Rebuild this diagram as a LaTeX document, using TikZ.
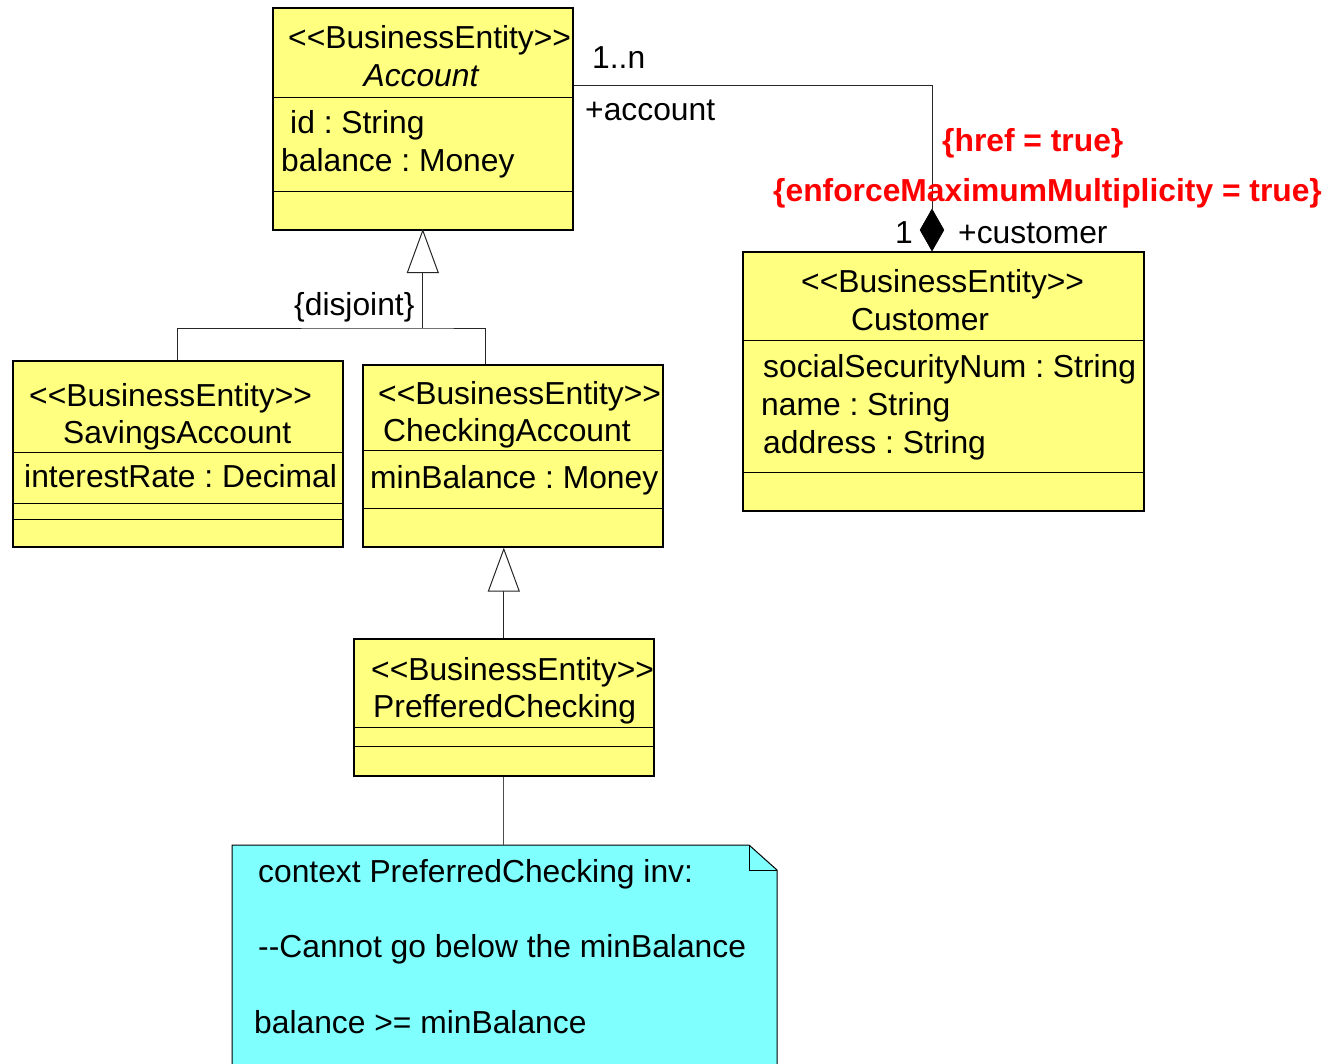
\documentclass[tikz,border=0pt]{standalone}
\usepackage{fontspec}
\newfontfamily\umlfont{Liberation Sans}
\usetikzlibrary{shapes.geometric,arrows.meta,calc}
\definecolor{umlyellow}{RGB}{255,255,128}
\definecolor{notecyan}{RGB}{128,255,255}
\definecolor{tagred}{RGB}{255,0,0}
\frenchspacing
\begin{document}
\begin{tikzpicture}[x=1pt,y=-1pt,
  cls/.style={draw=black, line width=1.6pt, fill=umlyellow, anchor=north west,
    inner sep=0pt, minimum width=#1},
  divider/.style={draw=black, line width=0.9pt},
  txt/.style={inner sep=0pt, font=\umlfont\fontsize{31.8}{38}\selectfont},
  tag/.style={txt, text=tagred, font=\umlfont\bfseries\fontsize{31.8}{38}\selectfont},
  link/.style={draw=black!85, line width=1pt},
  gen/.style={link, -{Triangle[length=44pt,width=32pt,fill=white,line width=1pt]}},
]
\useasboundingbox (0,0) rectangle (1337,1063);
\clip (0,0) rectangle (1337,1063);
\fill[white] (0,0) rectangle (1337,1063);

% ---------- class boxes ----------
\node[cls=300, minimum height=222] (acc)  at (272,7)   {};
\node[cls=401, minimum height=259] (cust) at (742,251) {};
\node[cls=330, minimum height=186] (sav)  at (12,360)  {};
\node[cls=300, minimum height=182] (chk)  at (362,364) {};
\node[cls=300, minimum height=137] (pref) at (353,638) {};

% compartment dividers
\draw[divider] (acc.west |- 0,97)  -- (acc.east |- 0,97);
\draw[divider] (acc.west |- 0,191) -- (acc.east |- 0,191);
\draw[divider] (cust.west |- 0,340) -- (cust.east |- 0,340);
\draw[divider] (cust.west |- 0,472) -- (cust.east |- 0,472);
\draw[divider] (sav.west |- 0,452) -- (sav.east |- 0,452);
\draw[divider] (sav.west |- 0,503) -- (sav.east |- 0,503);
\draw[divider] (sav.west |- 0,519) -- (sav.east |- 0,519);
\draw[divider] (chk.west |- 0,450) -- (chk.east |- 0,450);
\draw[divider] (chk.west |- 0,508) -- (chk.east |- 0,508);
\draw[divider] (pref.west |- 0,727) -- (pref.east |- 0,727);
\draw[divider] (pref.west |- 0,746) -- (pref.east |- 0,746);

% ---------- class texts ----------
\node[txt, anchor=base west] (accS) at (288,48)  {<<BusinessEntity>>};
\node[txt, anchor=base, font=\umlfont\itshape\fontsize{31.8}{38}\selectfont] (accN) at (421,86) {Account};
\node[txt, anchor=base west] (accA1) at (290,133) {id : String};
\node[txt, anchor=base west] (accA2) at (281,171) {balance : Money};

\node[txt, anchor=base west] (custS) at (801,292) {<<BusinessEntity>>};
\node[txt, anchor=base west] (custN) at (851,330) {Customer};
\node[txt, anchor=base west] (custA1) at (763,377) {socialSecurityNum : String};
\node[txt, anchor=base west] (custA2) at (761,415) {name : String};
\node[txt, anchor=base west] (custA3) at (763,453) {address : String};

\node[txt, anchor=base west] (savS) at (29,406) {<<BusinessEntity>>};
\node[txt, anchor=base west] (savN) at (63,443) {SavingsAccount};
\node[txt, anchor=base west] (savA1) at (24,487) {interestRate : Decimal};

\node[txt, anchor=base west] (chkS) at (378,404) {<<BusinessEntity>>};
\node[txt, anchor=base west] (chkN) at (383,441) {CheckingAccount};
\node[txt, anchor=base west] (chkA1) at (370,488) {minBalance : Money};

\node[txt, anchor=base west] (prefS) at (371,680) {<<BusinessEntity>>};
\node[txt, anchor=base west] (prefN) at (373,717) {PrefferedChecking};

% ---------- composition Account -- Customer ----------
\node[diamond, fill=black, draw=black, line width=0.6pt, inner sep=0pt,
      minimum width=24, minimum height=42] (dia) at (932,230) {};
\draw[link] ($(acc.north east)+(0,78)$) -| (dia.north);
\node[txt, anchor=base west] (multN) at (592,68)  {1..n};
\node[txt, anchor=base west] (roleA) at (585,120) {+account};
\node[tag, anchor=base west] (tagH) at (942,151) {\{href = true\}};
\node[tag, anchor=base west] (tagE) at (773,201) {\{enforceMaximumMultiplicity = true\}};
\node[txt, anchor=base east] (mult1) at (913,243) {1};
\node[txt, anchor=base west] (roleC) at (958,243) {+customer};

% ---------- generalisations ----------
\coordinate (gj) at (acc.south |- 0,328);
\draw[link] (sav.north) |- (gj) -| ($(chk.north west)+(123,0)$);
\draw[gen] (gj) -- (acc.south |- gj |- 0,229);
\node[txt, anchor=base west] (disj) at (294,315) {\{disjoint\}};

\coordinate (pj) at (pref.north);
\draw[gen] (pj) -- (pj |- chk.south);

% ---------- OCL note ----------
\draw[fill=notecyan, draw=black, line width=1pt]
  (232,1080) -- (232,845) -- (749,845) -- (777,870) -- (777,1080);
\draw[black, line width=1pt] (749,845) -- (749,870) -- (777,870);
\node[inner sep=0pt, minimum width=545, minimum height=10, anchor=north west] (note) at (232,845) {};
\draw[draw=black!70, line width=0.8pt] (pref.south) -- (note.north -| pref.south);
\node[txt, anchor=base west] (n1) at (258,882)  {context PreferredChecking inv:};
\node[txt, anchor=base west] (n2) at (258,957)  {--Cannot go below the minBalance};
\node[txt, anchor=base west] (n3) at (254,1033) {balance >= minBalance};
\end{tikzpicture}
\end{document}
